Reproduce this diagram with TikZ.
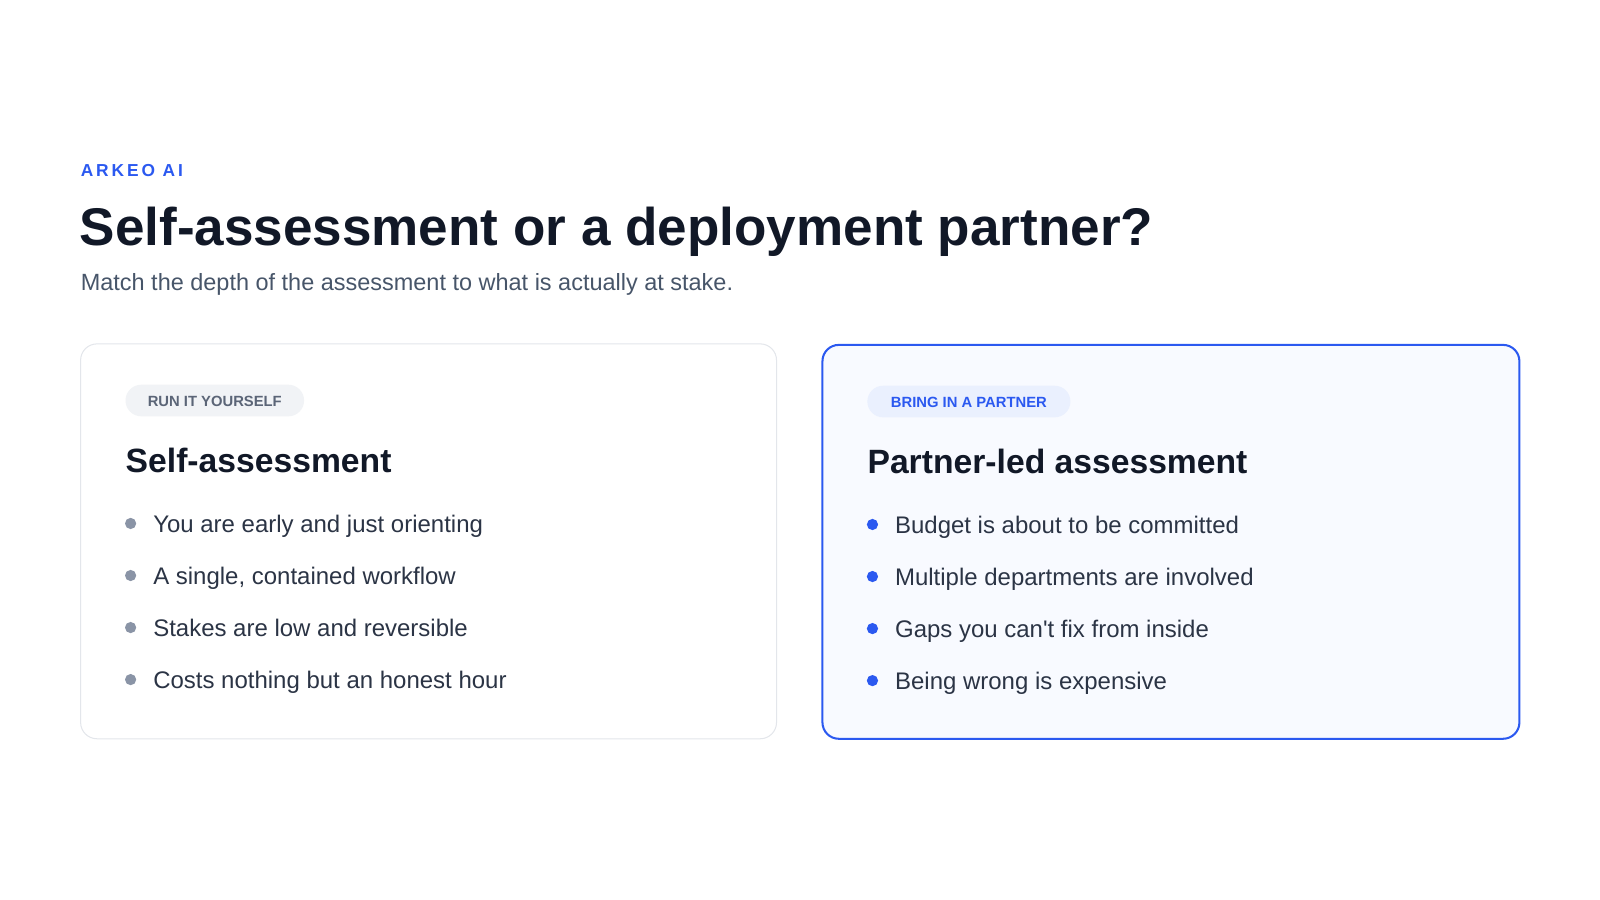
\documentclass[tikz,border=0pt]{standalone}
\usepackage{fontspec}
\setmainfont{Liberation Sans}
\definecolor{navy}{HTML}{111827}
\definecolor{blueA}{HTML}{2B59F0}
\definecolor{subg}{HTML}{475569}
\definecolor{txt}{HTML}{2B3445}
\definecolor{dotg}{HTML}{8A94A6}
\definecolor{pillg}{HTML}{F1F3F6}
\definecolor{pillb}{HTML}{EAF0FE}
\definecolor{cardb}{HTML}{F8FAFF}
\definecolor{bord}{HTML}{E3E6EB}
\definecolor{pilltxt}{HTML}{5B6577}
\begin{document}
\begin{tikzpicture}[x=1pt,y=-1pt,
  item/.style={anchor=base west,font=\fontsize{23.5}{26}\selectfont,text=txt,inner sep=0},
  pilltext/.style={anchor=base,font=\bfseries\fontsize{14.5}{16}\selectfont,inner sep=0},
  head/.style={anchor=base west,font=\bfseries\fontsize{33}{38}\selectfont,text=navy,inner sep=0}]
\useasboundingbox (0,0) rectangle (1568,882);
\node[anchor=base west,inner sep=0,text=blueA,font=\bfseries\fontsize{17}{20}\selectfont] (brand) at (79,173) {A\,R\,K\,E\,O\,\ A\,I};
\node[anchor=base west,inner sep=0,text=navy,font=\bfseries\fontsize{52}{58}\selectfont] (title) at (78,241) {Self-assessment or a deployment partner?};
\node[anchor=base west,inner sep=0,text=subg,font=\fontsize{23}{26}\selectfont] (sub) at (79,285) {Match the depth of the assessment to what is actually at stake.};
% cards
\draw[bord,line width=1pt,fill=white,rounded corners=16] (79,337) rectangle (761,724);
\draw[blueA,line width=2pt,fill=cardb,rounded corners=16] (806,338) rectangle (1489,724);
% pills
\fill[pillg,rounded corners=15.5] (123,377) rectangle (298,408);
\node[pilltext,text=pilltxt] (p1) at (210.5,398) {RUN IT YOURSELF};
\fill[pillb,rounded corners=15.5] (850,378) rectangle (1049,409);
\node[pilltext,text=blueA] (p2) at (949.5,399) {BRING IN A PARTNER};
\node[head] (h1) at (123,463) {Self-assessment};
\node[head] (h2) at (850,464) {Partner-led assessment};
% bullets
\foreach \y/\t [count=\i] in {513/You are early and just orienting,564/{A single, contained workflow},615/Stakes are low and reversible,666/Costs nothing but an honest hour}{
  \fill[dotg] (128,\y) circle (5.5);
  \node[item] (l\i) at (150,\y+8.5) {\t};
}
\foreach \y/\t [count=\i] in {514/Budget is about to be committed,565/Multiple departments are involved,616/Gaps you can\textquotesingle t fix from inside,667/Being wrong is expensive}{
  \fill[blueA] (855,\y) circle (5.5);
  \node[item] (r\i) at (877,\y+8.5) {\t};
}
\end{tikzpicture}
\end{document}
